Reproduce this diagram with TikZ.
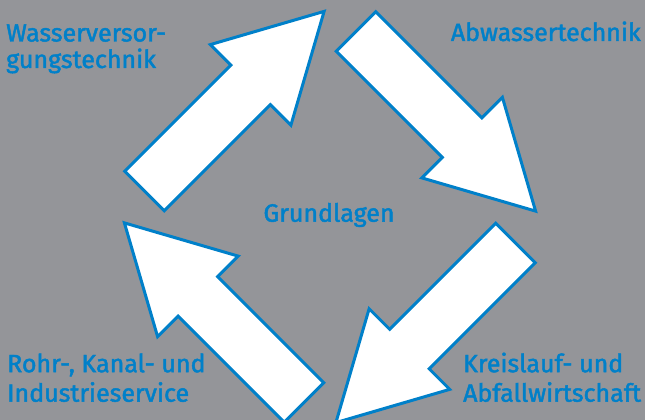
\documentclass[tikz,border=0pt]{standalone}
\usepackage{fontspec}
\setmainfont{Fira Sans}[UprightFeatures={FakeBold=1.8}]
\usepackage{tikz}
\definecolor{bggray}{RGB}{148,149,153}
\definecolor{fieldblue}{RGB}{0,128,201}
\def\fatarrow[#1](#2)(#3){\draw[#1, shift={(#2)}, rotate=#3] (0,-28) -- (150,-28) -- (150,-57) -- (254,0) -- (150,57) -- (150,28) -- (0,28) -- cycle;}

\begin{document}
\begin{tikzpicture}[x=1pt, y=1pt,
		arrowbox/.style={draw=fieldblue, fill=white, line width=3pt, line join=miter},
		fieldlabel/.style={text=fieldblue, inner sep=0pt, align=left, font=\fontsize{25}{26.5}\selectfont}]
				\fill[bggray] (0,0) rectangle (645,420);
				\useasboundingbox (0,0) rectangle (645,420);
				
				\begin{scope}
					\clip (0,0) rectangle (645,420);
					\foreach \a in {0,-90,-180,-270}{
						\begin{scope}[shift={(330,203)}, rotate=\a]
							\fatarrow[arrowbox](-185.5,26)(45)
						\end{scope}
					}
				\end{scope}
				
				% base anchor of a two-line label sits on its last line
				\node[fieldlabel, anchor=base west] (wasser) at (6,352) {Wasserversor-\\gungstechnik};
				\node[fieldlabel, anchor=base east] (abwasser) at (641,379) {Abwassertechnik};
				\node[fieldlabel, anchor=base] (grundlagen) at (329,198.3) {Grundlagen};
				\node[fieldlabel, anchor=base west] (kreislauf) at (463,18.3) {Kreislauf- und\\[3pt]Abfallwirtschaft};
				\node[fieldlabel, anchor=base west] (rohr) at (7,18.3) {Rohr-, Kanal- und\\[3pt]Industrieservice};
\end{tikzpicture}
\end{document}
